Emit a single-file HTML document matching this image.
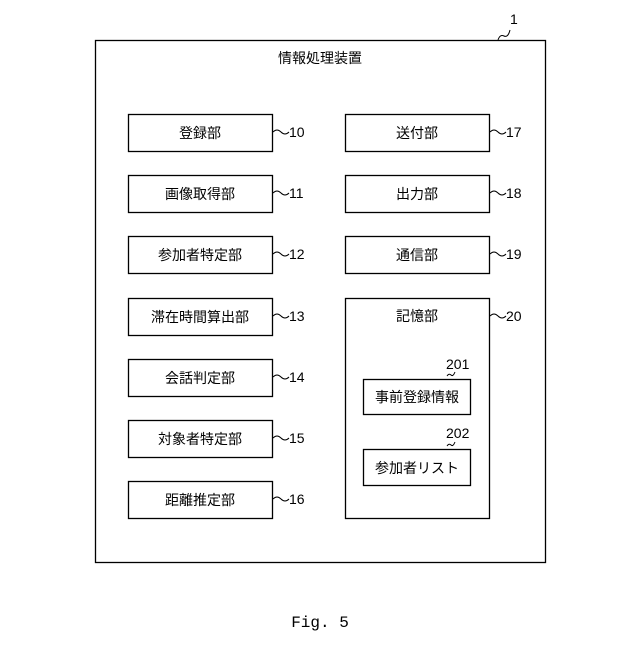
<!DOCTYPE html>
<html><head><meta charset="utf-8"><style>
body{margin:0;background:#fff}
</style></head><body>
<svg width="640" height="640" xmlns="http://www.w3.org/2000/svg" font-family="Liberation Sans, Noto Sans CJK JP, sans-serif" font-size="14" fill="#000">
<g fill="none" stroke="#000" stroke-width="1.3">
<rect x="95.5" y="40.5" width="450" height="522"/>
<rect x="128.5" y="114.5" width="144" height="37"/>
<rect x="128.5" y="175.5" width="144" height="37"/>
<rect x="128.5" y="236.5" width="144" height="37"/>
<rect x="128.5" y="298.5" width="144" height="37"/>
<rect x="128.5" y="359.5" width="144" height="37"/>
<rect x="128.5" y="420.5" width="144" height="37"/>
<rect x="128.5" y="481.5" width="144" height="37"/>
<rect x="345.5" y="114.5" width="144" height="37"/>
<rect x="345.5" y="175.5" width="144" height="37"/>
<rect x="345.5" y="236.5" width="144" height="37"/>
<rect x="345.5" y="298.5" width="144" height="220"/>
<rect x="363.5" y="379.5" width="107" height="35"/>
<rect x="363.5" y="449.5" width="107" height="36"/>
<g stroke-width="1">
<path d="M273 132 q4 -4 8 0 t8 0"/>
<path d="M273 193 q4 -4 8 0 t8 0"/>
<path d="M273 254 q4 -4 8 0 t8 0"/>
<path d="M273 316 q4 -4 8 0 t8 0"/>
<path d="M273 377 q4 -4 8 0 t8 0"/>
<path d="M273 438 q4 -4 8 0 t8 0"/>
<path d="M273 499 q4 -4 8 0 t8 0"/>
<path d="M490 132 q4 -4 8 0 t8 0"/>
<path d="M490 193 q4 -4 8 0 t8 0"/>
<path d="M490 254 q4 -4 8 0 t8 0"/>
<path d="M490 316 q4 -4 8 0 t8 0"/>
<path d="M498 40 q2 -6 6 -4 t6 -6"/>
<path d="M447 376 q2 -3 4 -1 t4 -3"/>
<path d="M447 446 q2 -3 4 -1 t4 -3"/>
</g>
</g>
<g text-anchor="middle">
<text x="320" y="63">情報処理装置</text>
<text x="200" y="138">登録部</text>
<text x="200" y="199">画像取得部</text>
<text x="200" y="260">参加者特定部</text>
<text x="200" y="322">滞在時間算出部</text>
<text x="200" y="383">会話判定部</text>
<text x="200" y="444">対象者特定部</text>
<text x="200" y="505">距離推定部</text>
<text x="417" y="138">送付部</text>
<text x="417" y="199">出力部</text>
<text x="417" y="260">通信部</text>
<text x="417" y="321">記憶部</text>
<text x="417" y="402">事前登録情報</text>
<text x="417" y="473">参加者リスト</text>
<text x="320" y="627" font-family="Liberation Mono, monospace" font-size="16">Fig. 5</text>
</g>
<g font-size="14">
<text x="289" y="137">10</text>
<text x="289" y="198">11</text>
<text x="289" y="259">12</text>
<text x="289" y="321">13</text>
<text x="289" y="382">14</text>
<text x="289" y="443">15</text>
<text x="289" y="504">16</text>
<text x="506" y="137">17</text>
<text x="506" y="198">18</text>
<text x="506" y="259">19</text>
<text x="506" y="321">20</text>
<text x="510" y="24">1</text>
<text x="446" y="369">201</text>
<text x="446" y="438">202</text>
</g>
</svg>
</body></html>
